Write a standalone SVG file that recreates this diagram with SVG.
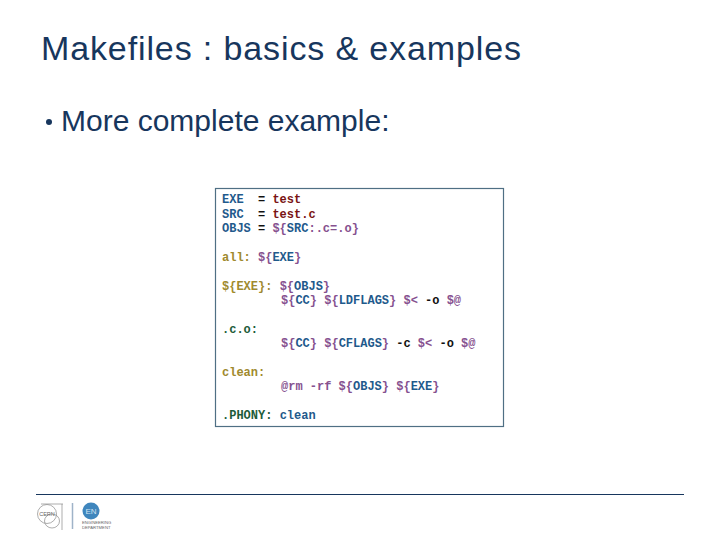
<svg xmlns="http://www.w3.org/2000/svg" width="720" height="540" viewBox="0 0 720 540">
<style>
.h{font-family:"Liberation Sans",Arial,sans-serif;fill:#17365d}
.c{font-family:"Liberation Mono","Courier New",monospace;font-size:12px;font-weight:bold;white-space:pre;fill:#111}
.b{fill:#1f5a8c}.r{fill:#7a1414}.p{fill:#86518f}.y{fill:#a08a2e}.g{fill:#1d5c3a}.k{fill:#111}
</style>
<rect width="720" height="540" fill="#fff"/>
<g id="title"><text class="h" x="41" y="59.500" font-size="34" textLength="480" lengthAdjust="spacing">Makefiles : basics &amp; examples</text></g>
<g id="bullet"><text class="h" x="61" y="131" font-size="30">More complete example:</text><circle cx="49" cy="122" r="3" fill="#17365d"/></g>
<g id="code">
<rect x="215.500" y="188.500" width="288" height="238" fill="#fff" stroke="#4f6f84" stroke-width="1.200"/>
<text class="c" x="222" y="203"><tspan class="b">EXE</tspan>  <tspan class="k">=</tspan> <tspan class="r">test</tspan></text>
<text class="c" x="222" y="217.500"><tspan class="b">SRC</tspan>  <tspan class="k">=</tspan> <tspan class="r">test.c</tspan></text>
<text class="c" x="222" y="232"><tspan class="b">OBJS</tspan> <tspan class="k">=</tspan> <tspan class="p">${</tspan><tspan class="b">SRC</tspan><tspan class="p">:.c=.o}</tspan></text>
<text class="c" x="222" y="261"><tspan class="y">all:</tspan> <tspan class="p">${</tspan><tspan class="b">EXE</tspan><tspan class="p">}</tspan></text>
<text class="c" x="222" y="290"><tspan class="y">${EXE}:</tspan> <tspan class="p">${</tspan><tspan class="b">OBJS</tspan><tspan class="p">}</tspan></text>
<text class="c" x="281" y="304"><tspan class="p">${</tspan><tspan class="b">CC</tspan><tspan class="p">}</tspan> <tspan class="p">${</tspan><tspan class="b">LDFLAGS</tspan><tspan class="p">}</tspan> <tspan class="p">$&lt;</tspan> -o <tspan class="p">$@</tspan></text>
<text class="c g" x="222" y="333">.c.o:</text>
<text class="c" x="281" y="347"><tspan class="p">${</tspan><tspan class="b">CC</tspan><tspan class="p">}</tspan> <tspan class="p">${</tspan><tspan class="b">CFLAGS</tspan><tspan class="p">}</tspan> -c <tspan class="p">$&lt;</tspan> -o <tspan class="p">$@</tspan></text>
<text class="c y" x="222" y="376">clean:</text>
<text class="c" x="281" y="390"><tspan class="p">@rm -rf ${</tspan><tspan class="b">OBJS</tspan><tspan class="p">}</tspan> <tspan class="p">${</tspan><tspan class="b">EXE</tspan><tspan class="p">}</tspan></text>
<text class="c" x="222" y="419"><tspan class="g">.PHONY:</tspan> <tspan class="b">clean</tspan></text>
</g>
<g id="footer">
<line x1="36" y1="494.500" x2="684" y2="494.500" stroke="#17365d" stroke-width="1"/>
<g fill="none" stroke="#8a8a8a" stroke-width="0.700">
<circle cx="47" cy="514" r="9.500"/><ellipse cx="52" cy="521" rx="7.500" ry="7"/><path d="M41 504H63M62 504V530"/>
</g>
<text x="47" y="516" font-family="Liberation Sans,sans-serif" font-size="5.500" text-anchor="middle" fill="#666">CERN</text>
<line x1="72.500" y1="503" x2="72.500" y2="529" stroke="#9fb3c8" stroke-width="1.500"/>
<circle cx="91" cy="511" r="8.500" fill="#3f86bd"/>
<text x="91" y="514" font-family="Liberation Sans,sans-serif" font-size="8" text-anchor="middle" fill="#cfe3f2">EN</text>
<text x="82" y="524" font-family="Liberation Sans,sans-serif" font-size="4.200" fill="#666">ENGINEERING</text>
<text x="82" y="529" font-family="Liberation Sans,sans-serif" font-size="4.200" fill="#666">DEPARTMENT</text>
</g>
</svg>
